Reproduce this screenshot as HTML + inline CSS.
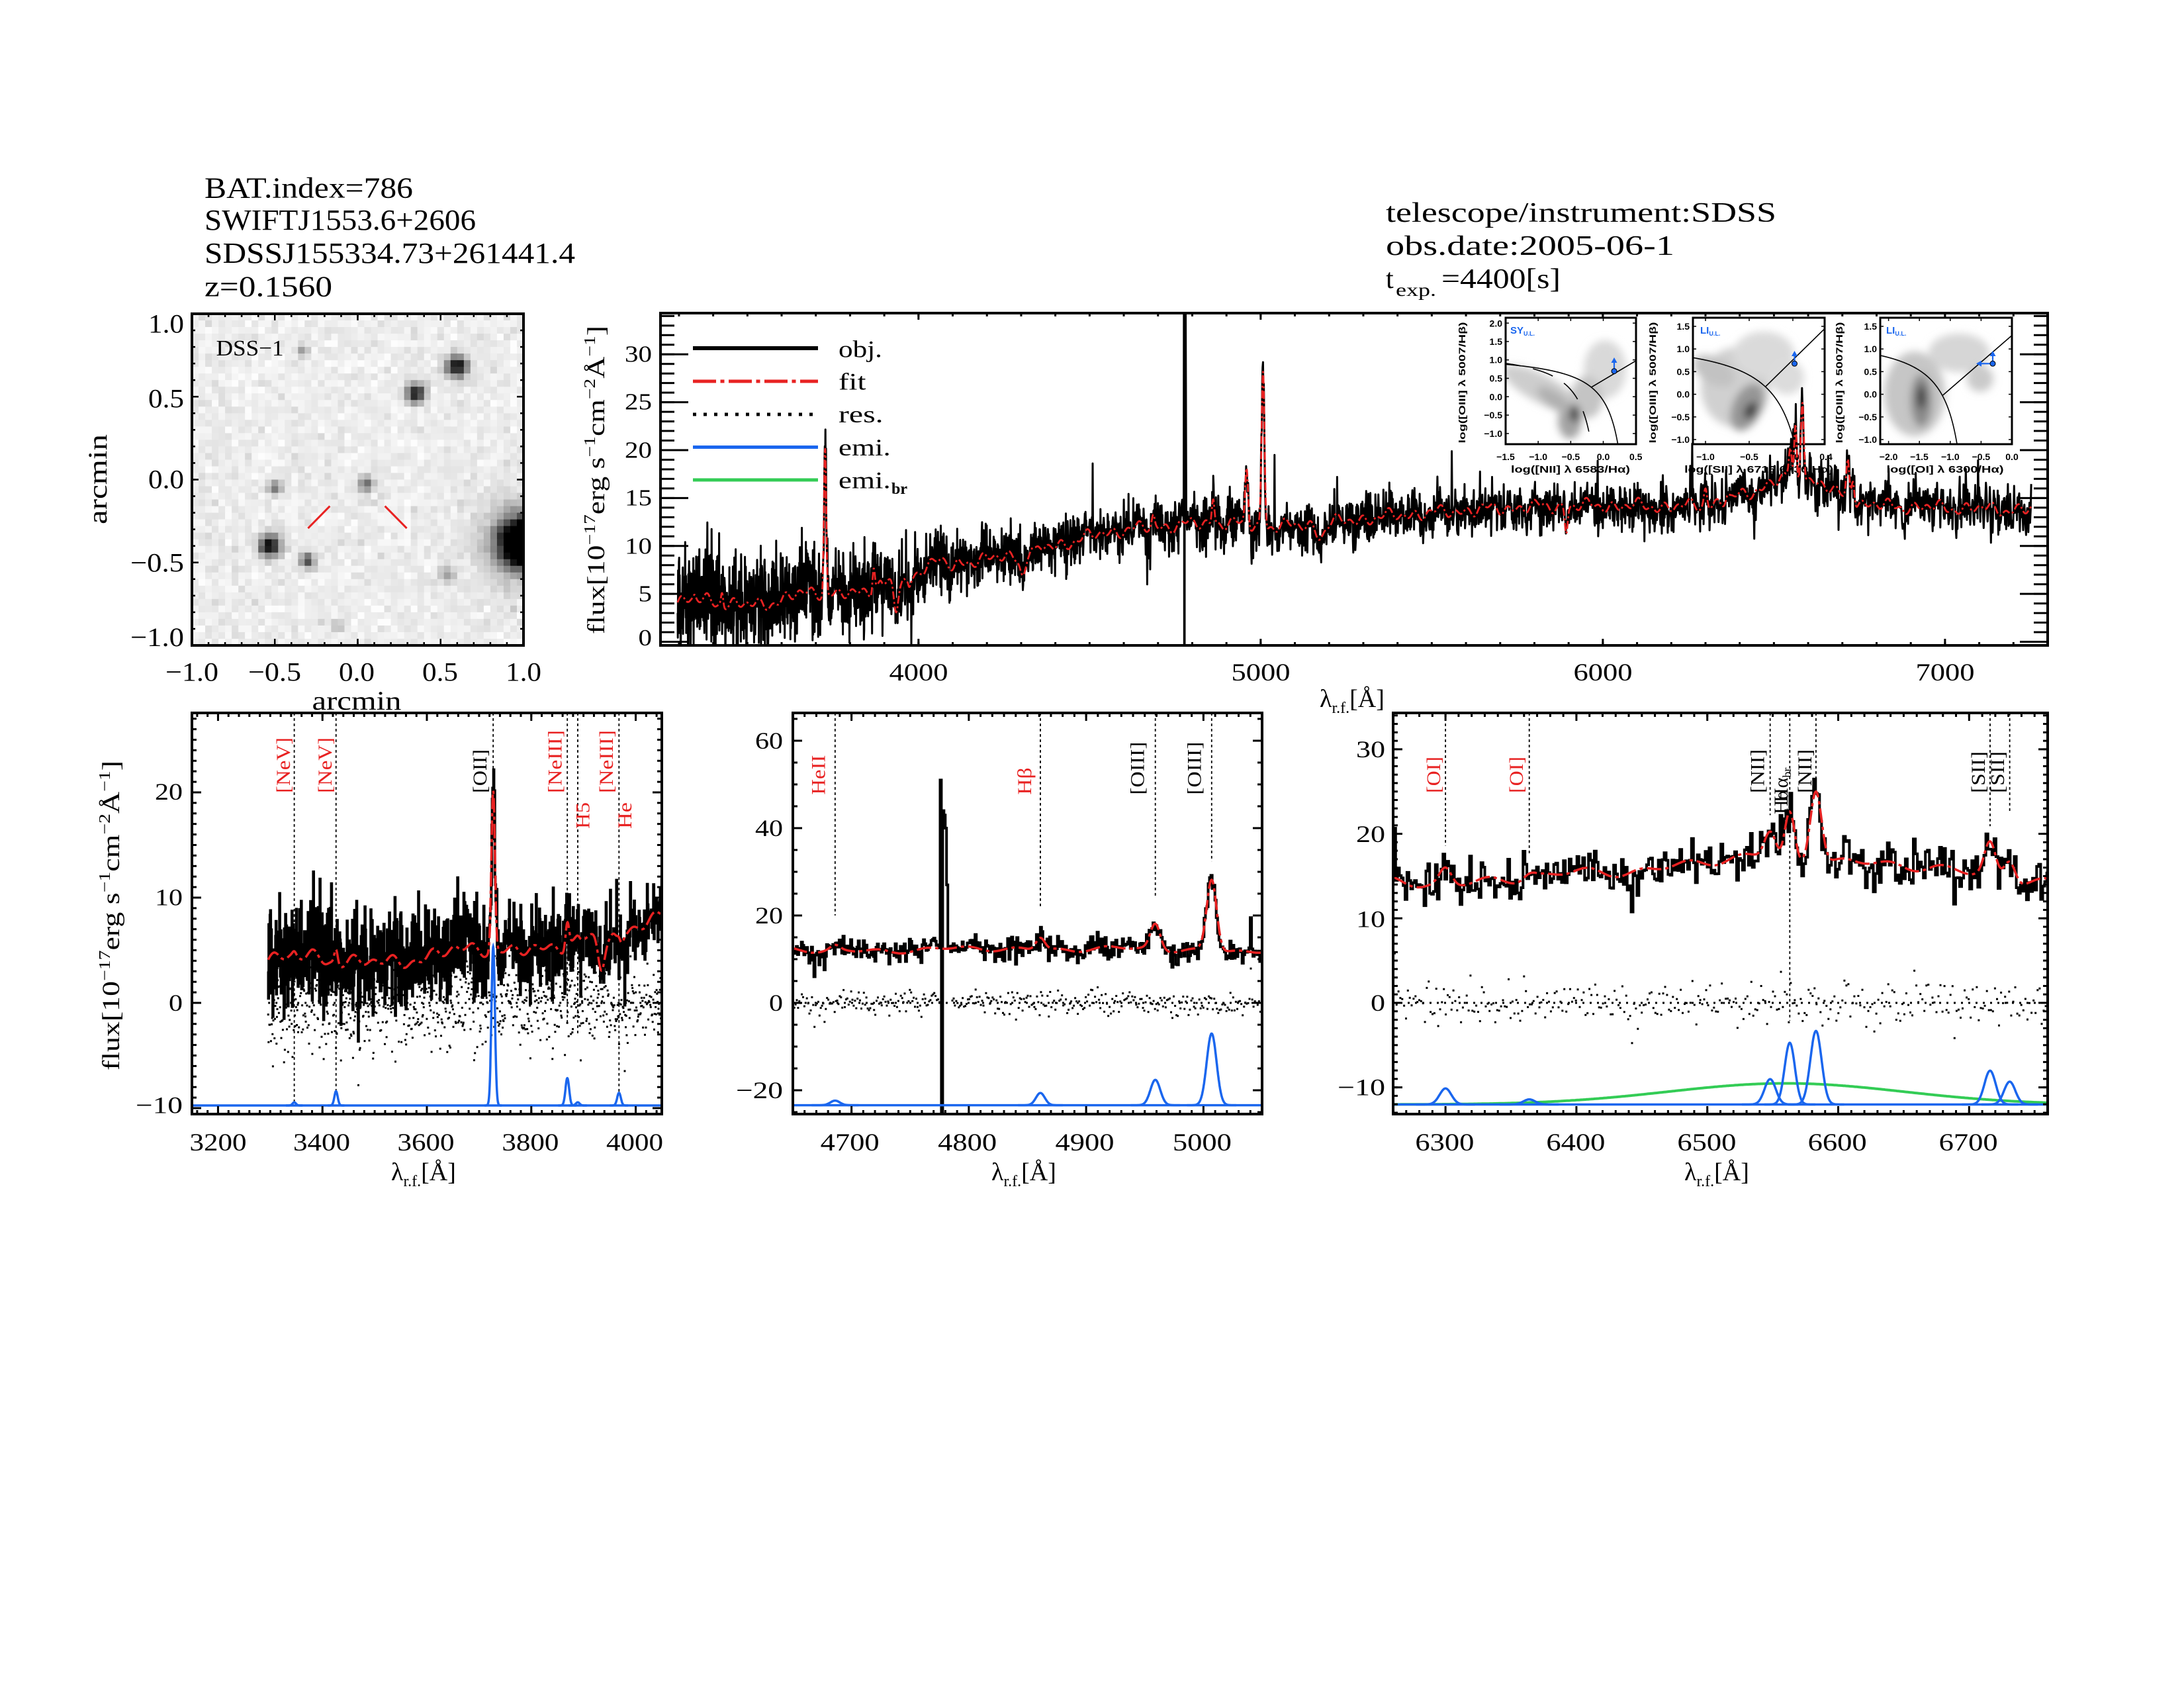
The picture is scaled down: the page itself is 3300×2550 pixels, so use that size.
<!DOCTYPE html>
<html><head><meta charset="utf-8">
<style>
html,body{margin:0;padding:0;background:#fff;}
svg{display:block;}
text{font-family:"Liberation Serif","DejaVu Serif",serif;fill:#000;}
.ins, .ins text, text.ins{font-family:"Liberation Sans","DejaVu Sans",sans-serif;font-weight:bold;}
.r{fill:#e82222;}
.b{fill:#1a66ee;}
</style></head><body>
<svg id="s" xmlns="http://www.w3.org/2000/svg" width="3300" height="2550" viewBox="0 0 3300 2550">
<defs>
 <clipPath id="cMain"><rect x="998" y="473" width="2096" height="502"/></clipPath>
 <clipPath id="cBL"><rect x="290" y="1077" width="710" height="606"/></clipPath>
 <clipPath id="cBM"><rect x="1198" y="1077" width="709" height="606"/></clipPath>
 <clipPath id="cBR"><rect x="2105" y="1077" width="989" height="606"/></clipPath>
 <clipPath id="cDSS"><rect x="290" y="474" width="501" height="501"/></clipPath>
 <clipPath id="cI1"><rect x="2275" y="480" width="197" height="191"/></clipPath>
 <clipPath id="cI2"><rect x="2558" y="480" width="199" height="191"/></clipPath>
 <clipPath id="cI3"><rect x="2841" y="480" width="199" height="191"/></clipPath>
 <filter id="blur" x="-50%" y="-50%" width="200%" height="200%"><feGaussianBlur stdDeviation="6"/></filter>
</defs>
<rect x="0" y="0" width="3300" height="2550" fill="#fff"/>

<!-- Header left -->
<text x="309" y="298.5" font-size="44" textLength="315" lengthAdjust="spacingAndGlyphs">BAT.index=786</text>
<text x="309" y="347" font-size="44" textLength="410" lengthAdjust="spacingAndGlyphs">SWIFTJ1553.6+2606</text>
<text x="309" y="397" font-size="44" textLength="560" lengthAdjust="spacingAndGlyphs">SDSSJ155334.73+261441.4</text>
<text x="309" y="447.6" font-size="44" textLength="193" lengthAdjust="spacingAndGlyphs">z=0.1560</text>
<!-- Header right -->
<text x="2094" y="335" font-size="42" textLength="590" lengthAdjust="spacingAndGlyphs">telescope/instrument:SDSS</text>
<text x="2094" y="385" font-size="42" textLength="436" lengthAdjust="spacingAndGlyphs">obs.date:2005-06-1</text>
<text x="2094" y="435" font-size="42">t</text>
<text x="2109" y="447" font-size="27" textLength="61" lengthAdjust="spacingAndGlyphs">exp.</text>
<text x="2178" y="435" font-size="42" textLength="180" lengthAdjust="spacingAndGlyphs">=4400[s]</text>

<!-- DSS panel -->
<g id="dss" clip-path="url(#cDSS)"></g>
<g stroke="#e82222" stroke-width="3">
 <line x1="465.4" y1="798.1" x2="498.4" y2="764.6"/>
 <line x1="581.6" y1="764.6" x2="614.6" y2="798.1"/>
</g>
<text x="326.6" y="537" font-size="34" textLength="102" lengthAdjust="spacingAndGlyphs">DSS−1</text>
<g id="dssAx" stroke="#000" stroke-width="2.5"></g>
<rect x="290" y="474" width="501" height="501" fill="none" stroke="#000" stroke-width="4"/>
<g font-size="40" text-anchor="end">
 <text x="278" y="502.5" textLength="54" lengthAdjust="spacingAndGlyphs">1.0</text>
 <text x="278" y="615.5" textLength="54" lengthAdjust="spacingAndGlyphs">0.5</text>
 <text x="278" y="737.5" textLength="54" lengthAdjust="spacingAndGlyphs">0.0</text>
 <text x="278" y="863.5" textLength="81" lengthAdjust="spacingAndGlyphs">−0.5</text>
 <text x="278" y="976" textLength="81" lengthAdjust="spacingAndGlyphs">−1.0</text>
</g>
<g font-size="40" text-anchor="middle">
 <text x="290" y="1028.6" textLength="80" lengthAdjust="spacingAndGlyphs">−1.0</text>
 <text x="415" y="1028.6" textLength="80" lengthAdjust="spacingAndGlyphs">−0.5</text>
 <text x="539" y="1028.6" textLength="54" lengthAdjust="spacingAndGlyphs">0.0</text>
 <text x="665" y="1028.6" textLength="54" lengthAdjust="spacingAndGlyphs">0.5</text>
 <text x="791" y="1028.6" textLength="54" lengthAdjust="spacingAndGlyphs">1.0</text>
 <text x="539" y="1072" textLength="135" lengthAdjust="spacingAndGlyphs">arcmin</text>
 <text transform="translate(161,724) rotate(-90)" textLength="136" lengthAdjust="spacingAndGlyphs">arcmin</text>
</g>

<!-- Main panel -->
<g id="mainAx" stroke="#000" stroke-width="3"></g>
<g font-size="35" text-anchor="end">
 <text x="985" y="975" textLength="20.5" lengthAdjust="spacingAndGlyphs">0</text>
 <text x="985" y="908.7" textLength="20.5" lengthAdjust="spacingAndGlyphs">5</text>
 <text x="985" y="836.5" textLength="41" lengthAdjust="spacingAndGlyphs">10</text>
 <text x="985" y="763.6" textLength="41" lengthAdjust="spacingAndGlyphs">15</text>
 <text x="985" y="691.4" textLength="41" lengthAdjust="spacingAndGlyphs">20</text>
 <text x="985" y="618.5" textLength="41" lengthAdjust="spacingAndGlyphs">25</text>
 <text x="985" y="546.3" textLength="41" lengthAdjust="spacingAndGlyphs">30</text>
</g>
<g font-size="37" text-anchor="middle">
 <text x="1388" y="1028" textLength="89" lengthAdjust="spacingAndGlyphs">4000</text>
 <text x="1905" y="1028" textLength="89" lengthAdjust="spacingAndGlyphs">5000</text>
 <text x="2422" y="1028" textLength="89" lengthAdjust="spacingAndGlyphs">6000</text>
 <text x="2939" y="1028" textLength="89" lengthAdjust="spacingAndGlyphs">7000</text>
</g>
<text x="1994" y="1068" font-size="38">λ<tspan font-size="24" dy="9">r.f.</tspan><tspan dy="-9">[Å]</tspan></text>
<text transform="translate(913,725) rotate(-90)" text-anchor="middle" font-size="37" textLength="466" lengthAdjust="spacingAndGlyphs">flux[10<tspan dy="-14" font-size="24">−17</tspan><tspan dy="14">erg s</tspan><tspan dy="-14" font-size="24">−1</tspan><tspan dy="14">cm</tspan><tspan dy="-14" font-size="24">−2</tspan><tspan dy="14">Å</tspan><tspan dy="-14" font-size="24">−1</tspan><tspan dy="14">]</tspan></text>

<!-- Legend -->
<line x1="1047" y1="526" x2="1236" y2="526" stroke="#000" stroke-width="6"/>
<line x1="1047" y1="576" x2="1236" y2="576" stroke="#e82222" stroke-width="5" stroke-dasharray="35 6.5 6 6.5"/>
<line x1="1047" y1="626" x2="1236" y2="626" stroke="#000" stroke-width="5" stroke-dasharray="5 11"/>
<line x1="1047" y1="675.5" x2="1236" y2="675.5" stroke="#1a66ee" stroke-width="5"/>
<line x1="1047" y1="725" x2="1236" y2="725" stroke="#33cc55" stroke-width="5"/>
<g font-size="36">
 <text x="1267" y="539.5" textLength="66" lengthAdjust="spacingAndGlyphs">obj.</text>
 <text x="1267" y="588.4" textLength="41.5" lengthAdjust="spacingAndGlyphs">fit</text>
 <text x="1267" y="638" textLength="67.6" lengthAdjust="spacingAndGlyphs">res.</text>
 <text x="1267" y="688" textLength="78.8" lengthAdjust="spacingAndGlyphs">emi.</text>
 <text x="1267" y="737.7" textLength="78.8" lengthAdjust="spacingAndGlyphs">emi.</text>
 <text x="1347" y="746" font-size="24" font-weight="bold">br</text>
</g>

<!-- Insets -->
<g id="insets">
 <rect x="2275" y="480" width="197" height="191" fill="#fff"/>
 <rect x="2558" y="480" width="199" height="191" fill="#fff"/>
 <rect x="2841" y="480" width="199" height="191" fill="#fff"/>
 <g clip-path="url(#cI1)"><g filter="url(#blur)">
  <ellipse cx="2330" cy="588" rx="66" ry="21" transform="rotate(28 2330 588)" fill="#cdcdcd"/>
  <ellipse cx="2425" cy="558" rx="32" ry="44" fill="#d9d9d9"/>
  <ellipse cx="2398" cy="600" rx="24" ry="32" fill="#c4c4c4"/>
  <ellipse cx="2372" cy="636" rx="18" ry="27" fill="#a4a4a4"/>
  <ellipse cx="2350" cy="605" rx="32" ry="12" transform="rotate(35 2350 605)" fill="#b0b0b0"/>
  <ellipse cx="2379" cy="625" rx="8" ry="13" fill="#484848"/>
 </g></g>
 <g clip-path="url(#cI2)"><g filter="url(#blur)">
  <ellipse cx="2622" cy="585" rx="52" ry="60" fill="#d0d0d0"/>
  <ellipse cx="2665" cy="535" rx="46" ry="34" fill="#dadada"/>
  <ellipse cx="2700" cy="570" rx="26" ry="26" fill="#dcdcdc"/>
  <ellipse cx="2590" cy="560" rx="34" ry="20" transform="rotate(30 2590 560)" fill="#c2c2c2"/>
  <ellipse cx="2640" cy="615" rx="22" ry="38" transform="rotate(25 2640 615)" fill="#969696"/>
  <ellipse cx="2645" cy="620" rx="8" ry="14" transform="rotate(30 2645 620)" fill="#383838"/>
 </g></g>
 <g clip-path="url(#cI3)"><g filter="url(#blur)">
  <ellipse cx="2893" cy="595" rx="46" ry="64" fill="#c6c6c6"/>
  <ellipse cx="2960" cy="533" rx="46" ry="29" fill="#d6d6d6"/>
  <ellipse cx="2992" cy="572" rx="20" ry="20" fill="#cacaca"/>
  <ellipse cx="2903" cy="605" rx="16" ry="40" fill="#8a8a8a"/>
  <ellipse cx="2903" cy="600" rx="6" ry="18" fill="#333"/>
 </g></g>
 <g id="insCurves"></g>
 <g stroke="#1a66ee" stroke-width="2.2" fill="#1a66ee">
  <line x1="2439" y1="557" x2="2439" y2="546"/><polygon points="2434.5,548 2443.5,548 2439,540" stroke="none"/>
  <line x1="2711.5" y1="546" x2="2711.5" y2="536"/><polygon points="2707,538 2716,538 2711.5,530" stroke="none"/>
  <line x1="3011" y1="546" x2="3011" y2="536"/><polygon points="3006.5,538 3015.5,538 3011,530" stroke="none"/>
  <line x1="3007" y1="549.3" x2="2992" y2="549.3"/><polygon points="2994,544.8 2994,553.8 2986,549.3" stroke="none"/>
 </g>
 <g fill="#1a66ee" stroke="#000" stroke-width="1">
  <circle cx="2439" cy="560.7" r="4"/>
  <circle cx="2711.5" cy="549.3" r="4"/>
  <circle cx="3011" cy="549.3" r="4"/>
 </g>
 <g fill="none" stroke="#000" stroke-width="3">
  <rect x="2275" y="480" width="197" height="191"/>
  <rect x="2558" y="480" width="199" height="191"/>
  <rect x="2841" y="480" width="199" height="191"/>
 </g>
 <g class="ins">
  <text x="2282" y="504" font-size="15" class="ins b">SY<tspan font-size="9" dy="3">U.L.</tspan></text>
  <text x="2569" y="504" font-size="15" class="ins b">LI<tspan font-size="9" dy="3">U.L.</tspan></text>
  <text x="2850" y="504" font-size="15" class="ins b">LI<tspan font-size="9" dy="3">U.L.</tspan></text>
 </g>
 <g class="ins" font-size="14" text-anchor="end">
  <text x="2270" y="493.3">2.0</text><text x="2270" y="520.9">1.5</text><text x="2270" y="548.7">1.0</text><text x="2270" y="576.5">0.5</text><text x="2270" y="604.3">0.0</text><text x="2270" y="632.1">−0.5</text><text x="2270" y="659.9">−1.0</text>
  <text x="2553" y="498">1.5</text><text x="2553" y="532.2">1.0</text><text x="2553" y="566.4">0.5</text><text x="2553" y="600.6">0.0</text><text x="2553" y="634.8">−0.5</text><text x="2553" y="669">−1.0</text>
  <text x="2836" y="498">1.5</text><text x="2836" y="532.2">1.0</text><text x="2836" y="566.4">0.5</text><text x="2836" y="600.6">0.0</text><text x="2836" y="634.8">−0.5</text><text x="2836" y="669">−1.0</text>
 </g>
 <g class="ins" font-size="14" text-anchor="middle">
  <text x="2275" y="695">−1.5</text><text x="2324.2" y="695">−1.0</text><text x="2373.4" y="695">−0.5</text><text x="2422.5" y="695">0.0</text><text x="2471.7" y="695">0.5</text>
  <text x="2577" y="695">−1.0</text><text x="2643" y="695">−0.5</text><text x="2709" y="695">0.0</text><text x="2759" y="695">0.4</text>
  <text x="2853.6" y="695">−2.0</text><text x="2900" y="695">−1.5</text><text x="2946.8" y="695">−1.0</text><text x="2993.4" y="695">−0.5</text><text x="3040" y="695">0.0</text>
  <text x="2373" y="714" font-size="15" textLength="180" lengthAdjust="spacingAndGlyphs">log([NII] λ 6583/Hα)</text>
  <text x="2657.6" y="714" font-size="15" textLength="225" lengthAdjust="spacingAndGlyphs">log([SII] λ 6716,6730/Hα)</text>
  <text x="2939" y="714" font-size="15" textLength="177" lengthAdjust="spacingAndGlyphs">log([OI] λ 6300/Hα)</text>
  <text transform="translate(2214,578) rotate(-90)" textLength="183" lengthAdjust="spacingAndGlyphs">log([OIII] λ 5007/Hβ)</text>
  <text transform="translate(2502,578) rotate(-90)" textLength="183" lengthAdjust="spacingAndGlyphs">log([OIII] λ 5007/Hβ)</text>
  <text transform="translate(2784,578) rotate(-90)" textLength="183" lengthAdjust="spacingAndGlyphs">log([OIII] λ 5007/Hβ)</text>
 </g>
</g>
<g id="mainData" clip-path="url(#cMain)"></g>
<rect x="998" y="473" width="2096" height="502" fill="none" stroke="#000" stroke-width="4"/>

<!-- Bottom panels -->
<g id="blData" clip-path="url(#cBL)"></g>
<g id="bmData" clip-path="url(#cBM)"></g>
<g id="brData" clip-path="url(#cBR)"></g>
<g id="botAx" stroke="#000" stroke-width="3"></g>
<g fill="none" stroke="#000" stroke-width="4">
 <rect x="290" y="1077" width="710" height="606"/>
 <rect x="1198" y="1077" width="709" height="606"/>
 <rect x="2105" y="1077" width="989" height="606"/>
</g>

<g font-size="36" text-anchor="end">
 <text x="276" y="1208" textLength="42" lengthAdjust="spacingAndGlyphs">20</text>
 <text x="276" y="1367.6" textLength="42" lengthAdjust="spacingAndGlyphs">10</text>
 <text x="276" y="1527" textLength="21" lengthAdjust="spacingAndGlyphs">0</text>
 <text x="276" y="1681.7" textLength="71" lengthAdjust="spacingAndGlyphs">−10</text>
 <text x="1183" y="1131" textLength="42" lengthAdjust="spacingAndGlyphs">60</text>
 <text x="1183" y="1263" textLength="42" lengthAdjust="spacingAndGlyphs">40</text>
 <text x="1183" y="1395" textLength="42" lengthAdjust="spacingAndGlyphs">20</text>
 <text x="1183" y="1527" textLength="21" lengthAdjust="spacingAndGlyphs">0</text>
 <text x="1183" y="1659" textLength="71" lengthAdjust="spacingAndGlyphs">−20</text>
 <text x="2093" y="1143.8" textLength="44" lengthAdjust="spacingAndGlyphs">30</text>
 <text x="2093" y="1271.8" textLength="44" lengthAdjust="spacingAndGlyphs">20</text>
 <text x="2093" y="1400.4" textLength="44" lengthAdjust="spacingAndGlyphs">10</text>
 <text x="2093" y="1527.2" textLength="22" lengthAdjust="spacingAndGlyphs">0</text>
 <text x="2093" y="1654.7" textLength="72" lengthAdjust="spacingAndGlyphs">−10</text>
</g>
<g font-size="37" text-anchor="middle">
 <text x="329.5" y="1738" textLength="86" lengthAdjust="spacingAndGlyphs">3200</text>
 <text x="486" y="1738" textLength="86" lengthAdjust="spacingAndGlyphs">3400</text>
 <text x="643.5" y="1738" textLength="86" lengthAdjust="spacingAndGlyphs">3600</text>
 <text x="801.4" y="1738" textLength="86" lengthAdjust="spacingAndGlyphs">3800</text>
 <text x="959" y="1738" textLength="86" lengthAdjust="spacingAndGlyphs">4000</text>
 <text x="1284.2" y="1738" textLength="89" lengthAdjust="spacingAndGlyphs">4700</text>
 <text x="1461.6" y="1738" textLength="89" lengthAdjust="spacingAndGlyphs">4800</text>
 <text x="1639" y="1738" textLength="89" lengthAdjust="spacingAndGlyphs">4900</text>
 <text x="1816.4" y="1738" textLength="89" lengthAdjust="spacingAndGlyphs">5000</text>
 <text x="2182.9" y="1738" textLength="89" lengthAdjust="spacingAndGlyphs">6300</text>
 <text x="2380.9" y="1738" textLength="89" lengthAdjust="spacingAndGlyphs">6400</text>
 <text x="2578.9" y="1738" textLength="89" lengthAdjust="spacingAndGlyphs">6500</text>
 <text x="2776.2" y="1738" textLength="89" lengthAdjust="spacingAndGlyphs">6600</text>
 <text x="2974.2" y="1738" textLength="89" lengthAdjust="spacingAndGlyphs">6700</text>
</g>
<text x="591" y="1783" font-size="38">λ<tspan font-size="24" dy="9">r.f.</tspan><tspan dy="-9">[Å]</tspan></text>
<text x="1498" y="1783" font-size="38">λ<tspan font-size="24" dy="9">r.f.</tspan><tspan dy="-9">[Å]</tspan></text>
<text x="2545" y="1783" font-size="38">λ<tspan font-size="24" dy="9">r.f.</tspan><tspan dy="-9">[Å]</tspan></text>
<text transform="translate(180,1383) rotate(-90)" text-anchor="middle" font-size="37" textLength="468" lengthAdjust="spacingAndGlyphs">flux[10<tspan dy="-14" font-size="24">−17</tspan><tspan dy="14">erg s</tspan><tspan dy="-14" font-size="24">−1</tspan><tspan dy="14">cm</tspan><tspan dy="-14" font-size="24">−2</tspan><tspan dy="14">Å</tspan><tspan dy="-14" font-size="24">−1</tspan><tspan dy="14">]</tspan></text>

<g font-size="30">
 <text class="r" transform="translate(438,1198) rotate(-90)" textLength="84" lengthAdjust="spacingAndGlyphs">[NeV]</text>
 <text class="r" transform="translate(501,1198) rotate(-90)" textLength="84" lengthAdjust="spacingAndGlyphs">[NeV]</text>
 <text transform="translate(735,1198) rotate(-90)" textLength="66" lengthAdjust="spacingAndGlyphs">[OII]</text>
 <text class="r" transform="translate(848.5,1198) rotate(-90)" textLength="95" lengthAdjust="spacingAndGlyphs">[NeIII]</text>
 <text class="r" transform="translate(890.6,1252) rotate(-90)" textLength="40" lengthAdjust="spacingAndGlyphs">H5</text>
 <text class="r" transform="translate(926,1198) rotate(-90)" textLength="95" lengthAdjust="spacingAndGlyphs">[NeIII]</text>
 <text class="r" transform="translate(954,1252) rotate(-90)" textLength="40" lengthAdjust="spacingAndGlyphs">He</text>

 <text class="r" transform="translate(1246.6,1200.6) rotate(-90)" textLength="60" lengthAdjust="spacingAndGlyphs">HeII</text>
 <text class="r" transform="translate(1558,1200.6) rotate(-90)" textLength="41" lengthAdjust="spacingAndGlyphs">Hβ</text>
 <text transform="translate(1728.5,1200.6) rotate(-90)" textLength="80" lengthAdjust="spacingAndGlyphs">[OIII]</text>
 <text transform="translate(1814.6,1200.6) rotate(-90)" textLength="80" lengthAdjust="spacingAndGlyphs">[OIII]</text>

 <text class="r" transform="translate(2176,1198) rotate(-90)" textLength="55" lengthAdjust="spacingAndGlyphs">[OI]</text>
 <text class="r" transform="translate(2301,1198) rotate(-90)" textLength="55" lengthAdjust="spacingAndGlyphs">[OI]</text>
 <text transform="translate(2665.4,1198) rotate(-90)" textLength="66" lengthAdjust="spacingAndGlyphs">[NII]</text>
 <text transform="translate(2701,1230) rotate(-90)">Hα</text>
 <text transform="translate(2701,1212) rotate(-90)">Hα<tspan font-size="18" dy="5">br</tspan></text>
 <text transform="translate(2737,1198) rotate(-90)" textLength="66" lengthAdjust="spacingAndGlyphs">[NII]</text>
 <text transform="translate(2999,1198) rotate(-90)" textLength="63" lengthAdjust="spacingAndGlyphs">[SII]</text>
 <text transform="translate(3028,1198) rotate(-90)" textLength="63" lengthAdjust="spacingAndGlyphs">[SII]</text>
</g>
</svg>
<script>
(function(){
const NS="http://www.w3.org/2000/svg";
function el(p,tag,a){const e=document.createElementNS(NS,tag);for(const k in a)e.setAttribute(k,a[k]);p.appendChild(e);return e;}
const $=id=>document.getElementById(id);
function mb(a){return function(){a|=0;a=a+0x6D2B79F5|0;let t=Math.imul(a^a>>>15,1|a);t=t+Math.imul(t^t>>>7,61|t)^t;return((t^t>>>14)>>>0)/4294967296;}}
const R=mb(20240611);
function G(){let u=R();if(u<1e-9)u=1e-9;return Math.sqrt(-2*Math.log(u))*Math.cos(6.283185307*R());}

const P={
 main:{x0:998,x1:3094,y0:473,y1:975,l0:3246,l1:7300,f0:-0.38,f1:34.3},
 bl:{x0:290,x1:1000,y0:1077,y1:1683,l0:3150,l1:4050,f0:-10.566,f1:27.547},
 bm:{x0:1198,x1:1907,y0:1077,y1:1683,l0:4650,l1:5050,f0:-25.45,f1:66.36},
 br:{x0:2105,x1:3094,y0:1077,y1:1683,l0:6260,l1:6760,f0:-13.16,f1:34.3},
 dss:{x0:290,x1:791,y0:474,y1:975,l0:-1,l1:1,f0:-1,f1:1}
};
function X(p,l){return p.x0+(l-p.l0)/(p.l1-p.l0)*(p.x1-p.x0);}
function Y(p,f){return p.y1-(f-p.f0)/(p.f1-p.f0)*(p.y1-p.y0);}
function tX(g,p,a,b,st,len){for(let k=Math.ceil(a/st-1e-6);k*st<=b+1e-6;k++){const x=X(p,k*st);if(x<p.x0-0.5||x>p.x1+0.5)continue;el(g,'line',{x1:x,y1:p.y1,x2:x,y2:p.y1-len});el(g,'line',{x1:x,y1:p.y0,x2:x,y2:p.y0+len});}}
function tY(g,p,a,b,st,len){for(let k=Math.ceil(a/st-1e-6);k*st<=b+1e-6;k++){const y=Y(p,k*st);if(y<p.y0-0.5||y>p.y1+0.5)continue;el(g,'line',{x1:p.x0,y1:y,x2:p.x0+len,y2:y});el(g,'line',{x1:p.x1,y1:y,x2:p.x1-len,y2:y});}}

const ma=$('mainAx');
tX(ma,P.main,3300,7300,100,5);tX(ma,P.main,4000,7000,1000,10);
tY(ma,P.main,0,34,1,21);tY(ma,P.main,0,30,5,42);
const da=$('dssAx');
tX(da,P.dss,-1,1,0.1,5);tX(da,P.dss,-1,1,0.5,10);tY(da,P.dss,-1,1,0.1,5);tY(da,P.dss,-1,1,0.5,10);
const ba=$('botAx');
tX(ba,P.bl,3160,4040,20,6);tX(ba,P.bl,3200,4000,200,12);tY(ba,P.bl,-10,27,1,7);tY(ba,P.bl,-10,20,10,14);
tX(ba,P.bm,4650,5050,10,6);tX(ba,P.bm,4700,5000,100,12);tY(ba,P.bm,-25,65,5,7);tY(ba,P.bm,-20,60,20,14);
tX(ba,P.br,6260,6760,10,6);tX(ba,P.br,6300,6700,100,12);tY(ba,P.br,-13,34,1,7);tY(ba,P.br,-10,30,10,14);

const gd=$('dss');
const stars=[[-0.33,0.78,90,0.025],[0.60,0.68,245,0.045],[0.35,0.52,225,0.04],[0.05,-0.03,140,0.033],[-0.50,-0.05,110,0.03],[-0.53,-0.40,245,0.045],[-0.30,-0.49,170,0.03],[0.54,-0.57,80,0.03],[1.0,-0.38,420,0.1],[1.0,-0.38,45,0.22],[-0.12,-0.88,60,0.025]];
const N=50,cs=501/N;
for(let j=0;j<N;j++)for(let i=0;i<N;i++){const ax=-1+(i+0.5)*2/N,ay=1-(j+0.5)*2/N;let v=237+8*G();for(const s of stars){const r2=(ax-s[0])*(ax-s[0])+(ay-s[1])*(ay-s[1]);v-=s[2]*Math.exp(-r2/(2*s[3]*s[3]));}v=Math.max(0,Math.min(253,Math.round(v)));el(gd,'rect',{x:(290+i*cs).toFixed(2),y:(474+j*cs).toFixed(2),width:(cs+0.6).toFixed(2),height:(cs+0.6).toFixed(2),fill:'rgb('+v+','+v+','+v+')'});}

const IN=[
 {x0:2275,x1:2472,X:x=>2275+(x+1.5)*98.35,Y:y=>599.3-y*55.6,xt:[-1.5,-1,-0.5,0,0.5],yt:[-1,-0.5,0,0.5,1,1.5,2],clip:'cI1'},
 {x0:2558,x1:2757,X:x=>2577+(x+1)*132,Y:y=>595.6-y*68.4,xt:[-1,-0.5,0],yt:[-1,-0.5,0,0.5,1,1.5],clip:'cI2'},
 {x0:2841,x1:3040,X:x=>3040+x*93.2,Y:y=>595.6-y*68.4,xt:[-2,-1.5,-1,-0.5,0],yt:[-1,-0.5,0,0.5,1,1.5],clip:'cI3'}
];
const ic=$('insCurves');
function curve(I,g,fn,a,b,extra){let d='';const n=200;for(let k=0;k<=n;k++){const x=a+(b-a)*k/n;d+=(k?'L':'M')+I.X(x).toFixed(2)+' '+I.Y(fn(x)).toFixed(2);}const at={d:d,fill:'none',stroke:'#000','stroke-width':1.6};if(extra)for(const k in extra)at[k]=extra[k];el(g,'path',at);}
IN.forEach((I,idx)=>{const g=el(ic,'g',{'clip-path':'url(#'+I.clip+')'});
 if(idx==0){curve(I,g,x=>0.61/(x-0.47)+1.19,-1.6,0.3);curve(I,g,x=>0.61/(x-0.05)+1.3,-1.6,-0.15,{'stroke-dasharray':'32 20'});curve(I,g,x=>1.05*x+0.45,-0.18,0.55);}
 if(idx==1){curve(I,g,x=>0.72/(x-0.32)+1.30,-1.2,0.1);curve(I,g,x=>1.89*x+0.76,-0.31,0.4);}
 if(idx==2){curve(I,g,x=>0.73/(x+0.59)+1.33,-2.2,-0.75);curve(I,g,x=>1.18*x+1.30,-1.12,0.05);}
 const tg=el(ic,'g',{stroke:'#000','stroke-width':1.5});
 for(const v of I.xt){const x=I.X(v);if(x<I.x0-0.5||x>I.x1+0.5)continue;el(tg,'line',{x1:x,y1:671,x2:x,y2:666});el(tg,'line',{x1:x,y1:480,x2:x,y2:485});}
 for(const v of I.yt){const y=I.Y(v);if(y<479||y>672)continue;el(tg,'line',{x1:I.x0,y1:y,x2:I.x0+5,y2:y});el(tg,'line',{x1:I.x1,y1:y,x2:I.x1-5,y2:y});}
});

const K=[[3290,4.2],[3380,4.4],[3430,4.0],[3500,3.8],[3550,4.0],[3600,4.3],[3650,5.0],[3700,5.3],[3760,4.8],[3800,5.0],[3850,5.4],[3900,6.0],[3950,6.0],[3985,6.8],[4010,7.8],[4050,8.3],[4100,8.3],[4200,8.6],[4280,9.0],[4330,9.6],[4400,10.0],[4500,11.0],[4600,11.7],[4700,12.0],[4800,12.3],[4900,12.4],[5000,12.0],[5100,12.1],[5250,12.6],[5400,13.2],[5600,13.7],[5800,14.1],[6000,14.2],[6200,14.1],[6300,14.2],[6400,14.7],[6500,14.7],[6650,14.7],[6750,14.2],[7000,14.0],[7300,13.7]];
function cont(l){for(let i=0;i<K.length-1;i++){if(l<=K[i+1][0]){const t=(l-K[i][0])/(K[i+1][0]-K[i][0]);return K[i][1]+t*(K[i+1][1]-K[i][1]);}}return K[K.length-1][1];}
const ABS=[[3934,-2.6,6],[3969,-1.6,5],[4102,-0.8,8],[4305,-2.2,8],[4341,-0.6,6],[5175,-1.3,12],[5893,-2.5,4],[6563,-2.3,6]];
const EM=[[3346,0.3,3.2],[3426,1.35,3.2],[3727,15.1,3.3],[3869,2.6,3.5],[3889,0.3,3.5],[3968,1.2,3.5],[4686,1.05,4],[4861,2.8,3.8],[4959,5.8,4.2],[5007,16.4,4.2],[6300,1.9,4.5],[6364,0.6,4.5],[6548,3.0,4.3],[6563,7.3,3.9],[6583,8.7,4.3],[6716,4.0,4.3],[6731,2.7,4.3]];
function gs(l,c,s){const d=(l-c)/s;return Math.exp(-0.5*d*d);}
function wig(l){return 0.35*Math.sin(l/6.1)+0.3*Math.sin(l/11.7+1.3)+0.25*Math.sin(l/23+0.4);}
function broad(l){return 2.5*gs(l,6560,90);}
function fit(l){let f=cont(l)+wig(l);for(const a of ABS)f+=a[1]*gs(l,a[0],a[2]);for(const e of EM)f+=e[1]*gs(l,e[0],e[2]);f+=broad(l);return f;}
function sig(l){if(l<3700)return 2.6;if(l<4000)return 2.0;if(l<4300)return 1.6;if(l<5000)return 1.3;if(l<6600)return 1.2;return 1.35;}
const L=[],O=[],F=[];
for(let l=3296;l<7252;l*=1.00023026){const f=fit(l);let o=f+sig(l)*G();if(R()<0.008){const a=Math.abs(G())*3.5;o+=(R()<0.65)?a:-0.5*a;}L.push(l);F.push(f);O.push(o);}
const bad=[51,-80,44,43,40,27];let bi=0;
for(let i=0;i<L.length;i++){if(L[i]>=4775.6&&bi<bad.length){O[i]=bad[bi++];}}

const gm=$('mainData');
let d='';for(let i=0;i<L.length;i++){d+=(i?'L':'M')+X(P.main,L[i]).toFixed(1)+' '+Y(P.main,O[i]).toFixed(1);}
el(gm,'path',{d:d,fill:'none',stroke:'#000','stroke-width':3,'stroke-linejoin':'round'});
d='';for(let i=0;i<L.length;i++){d+=(i?'L':'M')+X(P.main,L[i]).toFixed(1)+' '+Y(P.main,F[i]).toFixed(1);}
el(gm,'path',{d:d,fill:'none',stroke:'#e82222','stroke-width':2.8,'stroke-dasharray':'12 4 3 4','stroke-linejoin':'round'});

const VL={bl:[[3346,-9.8],[3426,-8.6],[3727,19.7],[3869,-2.1],[3889,-2.9],[3968,-8.6]],
 bm:[[4686,20],[4861,22],[4959,24],[5007,32.4]],
 br:[[6300,18.6],[6364,17.7],[6548,22.2],[6563,-2.1],[6583,26.2],[6716,20.9],[6731,22.6]]};
const BASE={bl:1670,bm:1669.6,br:1668.5};
['bl','bm','br'].forEach(k=>{
 const p=P[k],g=$(k+'Data');
 for(const v of VL[k]){const x=X(p,v[0]);el(g,'line',{x1:x,y1:p.y0,x2:x,y2:Y(p,v[1]),stroke:'#000','stroke-width':1.8,'stroke-dasharray':'4 4'});}
 const lmin=Math.max(p.l0,3296),lmax=Math.min(p.l1,7252);
 let dd='';
 for(let i=0;i<L.length;i++){const l=L[i];if(l<p.l0||l>p.l1)continue;if(l>4775&&l<4785)continue;const x=X(p,l),y=Y(p,O[i]-F[i]);dd+='M'+(x-1.5).toFixed(1)+' '+(y-1.5).toFixed(1)+'h3v3h-3z';}
 el(g,'path',{d:dd,fill:'#000'});
 el(g,'line',{x1:X(p,lmin),y1:Y(p,0),x2:X(p,lmax),y2:Y(p,0),stroke:'#000','stroke-width':3,'stroke-dasharray':'3 8'});
 let sd='',st=false;
 for(let i=0;i<L.length;i++){const l=L[i];if(l<p.l0-3||l>p.l1+3)continue;const xl=X(p,i>0?(L[i-1]+l)/2:l),xr=X(p,i<L.length-1?(l+L[i+1])/2:l),y=Y(p,O[i]).toFixed(1);if(!st){sd+='M'+xl.toFixed(1)+' '+y;st=true;}else sd+='V'+y;sd+='H'+xr.toFixed(1);}
 el(g,'path',{d:sd,fill:'none',stroke:'#000','stroke-width':4});
 let fd='';let first=true;for(let l=lmin;l<=lmax;l+=0.5){fd+=(first?'M':'L')+X(p,l).toFixed(1)+' '+Y(p,fit(l)).toFixed(1);first=false;}
 el(g,'path',{d:fd,fill:'none',stroke:'#e82222','stroke-width':3.5,'stroke-dasharray':'22 6 5 6'});
 const sc=(p.y1-p.y0)/(p.f1-p.f0),base=BASE[k];
 if(k=='br'){let gdd='';first=true;for(let l=p.l0;l<=p.l1;l+=1){gdd+=(first?'M':'L')+X(p,l).toFixed(1)+' '+(base-broad(l)*sc).toFixed(1);first=false;}el(g,'path',{d:gdd,fill:'none',stroke:'#33cc55','stroke-width':4});}
 el(g,'line',{x1:p.x0,y1:base,x2:p.x1,y2:base,stroke:'#1a66ee','stroke-width':3.5});
 for(const e of EM){if(e[0]<p.l0-20||e[0]>p.l1+20)continue;let ed='';first=true;for(let l=e[0]-5*e[2];l<=e[0]+5*e[2];l+=0.25){ed+=(first?'M':'L')+X(p,l).toFixed(1)+' '+(base-e[1]*gs(l,e[0],e[2])*sc).toFixed(1);first=false;}el(g,'path',{d:ed,fill:'none',stroke:'#1a66ee','stroke-width':3.5});}
});
})();
</script>
</body></html>
